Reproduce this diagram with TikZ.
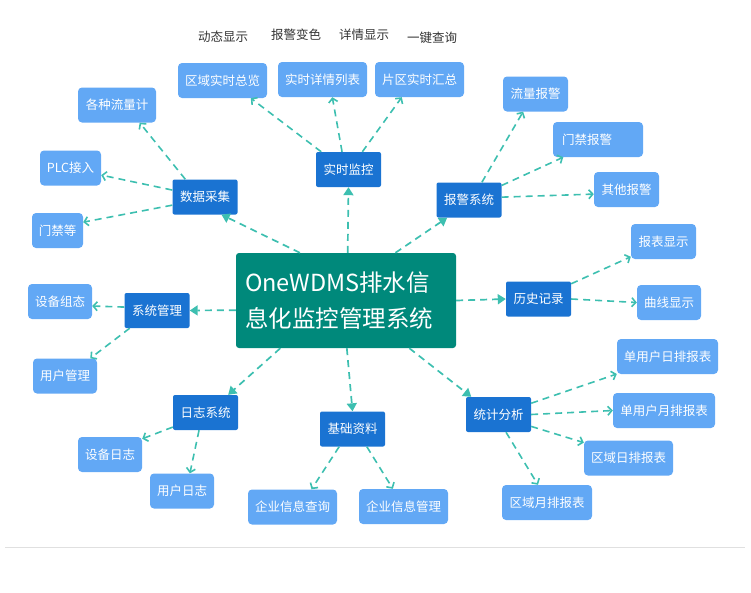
\documentclass[tikz,border=0pt]{standalone}
\usepackage{fontspec}
\setmainfont{Noto Sans CJK SC}
\usetikzlibrary{arrows.meta}

\definecolor{catblue}{RGB}{26,115,210}
\definecolor{leafblue}{RGB}{98,168,245}
\definecolor{hubteal}{RGB}{0,137,123}
\definecolor{linkteal}{RGB}{61,191,176}
\definecolor{labelgray}{RGB}{51,51,51}

\begin{document}
\begin{tikzpicture}[
        x=1pt, y=-1pt,
        every node/.style={font=\fontsize{12.5}{15}\selectfont, inner sep=0pt},
        cat/.style={fill=catblue, text=white, rounded corners=2pt,
            minimum width=65pt, minimum height=35pt},
        leaf/.style={fill=leafblue, text=white, rounded corners=4pt,
            minimum height=35pt},
        toplabel/.style={text=labelgray},
        mainarrow/.style={draw=linkteal, line width=1.7pt,
            dash pattern=on 7pt off 5pt, -{Triangle[length=8pt,width=10pt]}},
        leafarrow/.style={draw=linkteal, line width=1.6pt,
            dash pattern=on 7pt off 5pt, -{Straight Barb[length=4pt,width=9pt]}}
    ]
        \useasboundingbox (0,0) rectangle (751,592);

        % labels above the monitor row
        \node[toplabel] (dtxs) at (223,37) {动态显示};
        \node[toplabel] (bjbs) at (296,35) {报警变色};
        \node[toplabel] (xqxs) at (364,35) {详情显示};
        \node[toplabel] (yjcx) at (432,38) {一键查询};

        % hub
        \node[fill=hubteal, text=white, rounded corners=3pt, align=left,
            text width=202pt, inner xsep=9pt, minimum height=95pt,
            font=\fontsize{23.5}{36}\selectfont]
            (hub) at (346,300.5) {OneWDMS排水信\\息化监控管理系统};

        % categories
        \node[cat] (ssjk) at (348.5,169.5) {实时监控};
        \node[cat] (sjcj) at (205,197) {数据采集};
        \node[cat] (bjxt) at (469,200) {报警系统};
        \node[cat] (xtgl) at (157,310.5) {系统管理};
        \node[cat] (lsjl) at (538.5,299) {历史记录};
        \node[cat] (rzxt) at (205.5,412.5) {日志系统};
        \node[cat] (jczl) at (352.5,429) {基础资料};
        \node[cat] (tjfx) at (498.5,414.5) {统计分析};

        % leaves
        \node[leaf, minimum width=89pt] (qyzl) at (222.5,80.5) {区域实时总览};
        \node[leaf, minimum width=89pt] (sslb) at (322.5,79.5) {实时详情列表};
        \node[leaf, minimum width=89pt] (pqhz) at (419.5,79.5) {片区实时汇总};
        \node[leaf, minimum width=78pt] (llj) at (117,105) {各种流量计};
        \node[leaf, minimum width=61pt] (plc) at (70.5,168) {PLC接入};
        \node[leaf, minimum width=51pt] (mjd) at (57.5,230.5) {门禁等};
        \node[leaf, minimum width=64pt] (sbzt) at (60,301.5) {设备组态};
        \node[leaf, minimum width=64pt] (yhgl) at (65,376) {用户管理};
        \node[leaf, minimum width=65pt] (llbj) at (535.5,94) {流量报警};
        \node[leaf, align=left, text width=72pt, inner xsep=9pt]
            (mjbj) at (598,139.5) {门禁报警};
        \node[leaf, minimum width=65pt] (qtbj) at (626.5,189.5) {其他报警};
        \node[leaf, minimum width=65pt] (bbxs) at (663.5,241.5) {报表显示};
        \node[leaf, minimum width=64pt] (qxxs) at (669,302.5) {曲线显示};
        \node[leaf, minimum width=101pt] (rbb) at (667.5,356.5) {单用户日排报表};
        \node[leaf, minimum width=102pt] (ybb) at (664,410.5) {单用户月排报表};
        \node[leaf, minimum width=89pt] (qyrb) at (628.5,458) {区域日排报表};
        \node[leaf, minimum width=90pt] (qyyb) at (547,502.5) {区域月排报表};
        \node[leaf, minimum width=64pt] (sbrz) at (110,454.5) {设备日志};
        \node[leaf, minimum width=64pt] (yhrz) at (182,491) {用户日志};
        \node[leaf, minimum width=89pt] (qycx) at (292.5,507) {企业信息查询};
        \node[leaf, minimum width=89pt] (qygl) at (403.5,506.5) {企业信息管理};

        % hub to categories
        \foreach \a/\b in {hub.88/ssjk.south, hub.134/sjcj.-47, hub.44/bjxt.-141,
                hub.185/xtgl.east, hub.east/lsjl.west, hub.216/rzxt.38,
                hub.271/jczl.north, hub.323/tjfx.147} {
            \draw[mainarrow] (\a) -- (\b);
        }

        % categories to leaves
        \foreach \a/\b in {ssjk.147/qyzl.-32.5, ssjk.110/sslb.-61.5, ssjk.52/pqhz.-135,
                sjcj.138/llj.-38, sjcj.168/plc.-13, sjcj.194/mjd.18,
                xtgl.174/sbzt.-8, xtgl.213/yhgl.35,
                bjxt.54/llbj.-125, bjxt.24/mjbj.-153, bjxt.5/qtbj.188,
                lsjl.25/bbxs.205, lsjl.east/qxxs.west,
                tjfx.19.5/rbb.199, tjfx.east/ybb.west, tjfx.340.5/qyrb.161.4,
                tjfx.293/qyyb.117,
                rzxt.204/sbrz.26, rzxt.250/yhrz.66,
                jczl.233/qycx.43, jczl.309/qygl.121} {
            \draw[leafarrow] (\a) -- (\b);
        }

        % rule under the chart
        \draw[black!12, line width=1pt] (5,547) -- (745,547);
    \end{tikzpicture}
\end{document}
